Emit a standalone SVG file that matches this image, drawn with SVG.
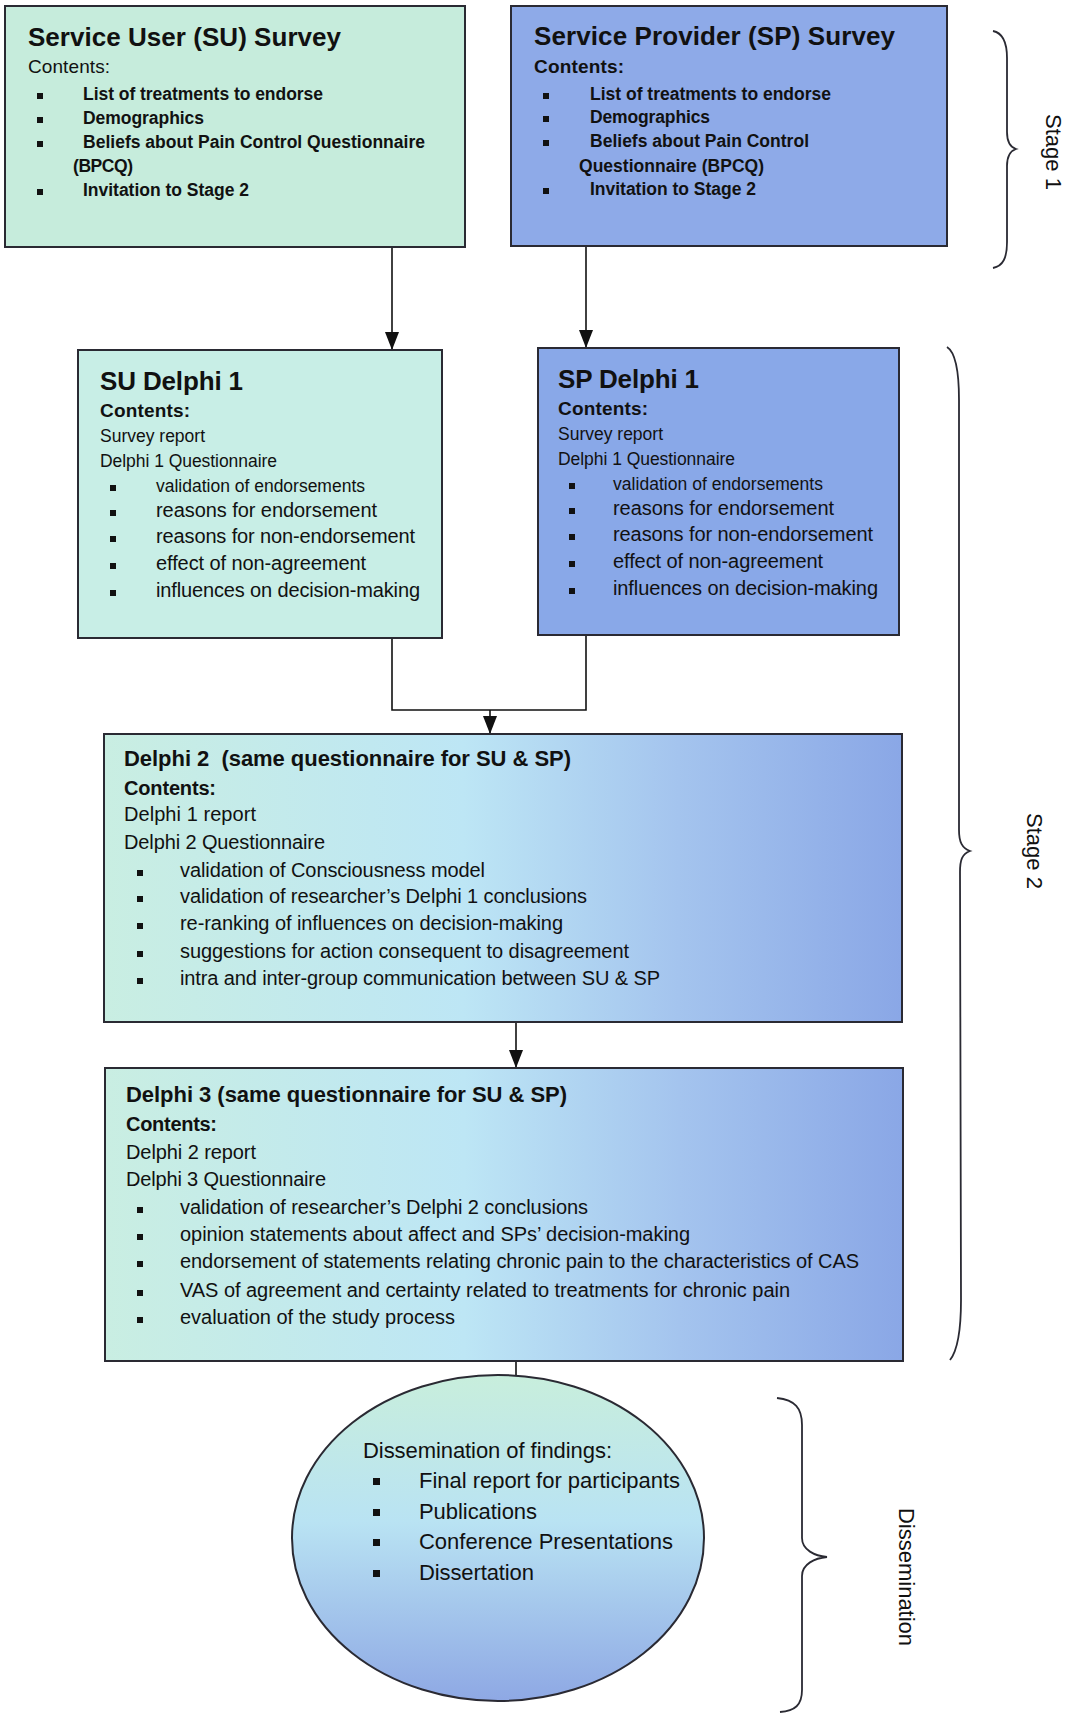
<svg xmlns="http://www.w3.org/2000/svg" width="1071" height="1713" viewBox="0 0 1071 1713">
<style>
text{font-family:"Liberation Sans",Arial,sans-serif;fill:#111}
.t26{font-size:26px;font-weight:bold}
.t22b{font-size:22px;font-weight:bold}
.b19{font-size:19px;font-weight:bold}
.b20{font-size:20px;font-weight:bold}
.r19{font-size:19px}
.s17b{font-size:17.5px;font-weight:bold}
.r17{font-size:17.5px}
.r20{font-size:20px}
.r22{font-size:22px}
.box{stroke:#2a2a33;stroke-width:2}
.bul{fill:#111}
.con{fill:none;stroke:#111;stroke-width:1.6}
.brace{fill:none;stroke:#2a2a33;stroke-width:1.8}
</style>
<defs>
<marker id="arr" markerUnits="userSpaceOnUse" markerWidth="18" markerHeight="14" refX="18" refY="7" orient="auto">
<path d="M0,0 L18,7 L0,14 z" fill="#111"/>
</marker>
<linearGradient id="gh" x1="0" y1="0" x2="1" y2="0">
<stop offset="0" stop-color="#c9eee2"/>
<stop offset="0.45" stop-color="#bde6f5"/>
<stop offset="0.72" stop-color="#a4c4ee"/>
<stop offset="1" stop-color="#8aa7e6"/>
</linearGradient>
<linearGradient id="gv" x1="0" y1="0" x2="0" y2="1">
<stop offset="0" stop-color="#c8eedc"/>
<stop offset="0.45" stop-color="#b9e3f3"/>
<stop offset="1" stop-color="#8ea8e4"/>
</linearGradient>
</defs>
<rect width="1071" height="1713" fill="#ffffff"/>

<g id="connectors">
<path class="con" d="M392 247 V350" marker-end="url(#arr)"/>
<path class="con" d="M586 246 V348" marker-end="url(#arr)"/>
<path class="con" d="M392 638 V710 H586 V635"/>
<path class="con" d="M490 710 V734" marker-end="url(#arr)"/>
<path class="con" d="M516 1022 V1068" marker-end="url(#arr)"/>
<path class="con" d="M516 1361 V1376"/>
</g>

<g id="su-survey">
<rect class="box" x="5" y="6" width="460" height="241" fill="#c6ecdc"/>
<text class="t26" x="28" y="46" textLength="313">Service User (SU) Survey</text>
<text class="r19" x="28" y="73" textLength="82">Contents:</text>
<rect class="bul" x="37" y="93" width="6" height="6"/>
<text class="s17b" x="83" y="100" textLength="240">List of treatments to endorse</text>
<rect class="bul" x="37" y="117" width="6" height="6"/>
<text class="s17b" x="83" y="124" textLength="121">Demographics</text>
<rect class="bul" x="37" y="141" width="6" height="6"/>
<text class="s17b" x="83" y="148" textLength="342">Beliefs about Pain Control Questionnaire</text>
<text class="s17b" x="73" y="172" textLength="60">(BPCQ)</text>
<rect class="bul" x="37" y="189" width="6" height="6"/>
<text class="s17b" x="83" y="196" textLength="166">Invitation to Stage 2</text>
</g>

<g id="sp-survey">
<rect class="box" x="511" y="6" width="436" height="240" fill="#8eaae8"/>
<text class="t26" x="534" y="45" textLength="361">Service Provider (SP) Survey</text>
<text class="b19" x="534" y="73" textLength="90">Contents:</text>
<rect class="bul" x="543" y="93" width="6" height="6"/>
<text class="s17b" x="590" y="100" textLength="241">List of treatments to endorse</text>
<rect class="bul" x="543" y="116" width="6" height="6"/>
<text class="s17b" x="590" y="123" textLength="120">Demographics</text>
<rect class="bul" x="543" y="140" width="6" height="6"/>
<text class="s17b" x="590" y="147" textLength="219">Beliefs about Pain Control</text>
<text class="s17b" x="579" y="172" textLength="185">Questionnaire (BPCQ)</text>
<rect class="bul" x="543" y="188" width="6" height="6"/>
<text class="s17b" x="590" y="195" textLength="166">Invitation to Stage 2</text>
</g>

<g id="su-delphi1">
<rect class="box" x="78" y="350" width="364" height="288" fill="#c8eee6"/>
<text class="t26" x="100" y="390" textLength="143">SU Delphi 1</text>
<text class="b19" x="100" y="417" textLength="90">Contents:</text>
<text class="r17" x="100" y="442" textLength="105">Survey report</text>
<text class="r17" x="100" y="467" textLength="177">Delphi 1 Questionnaire</text>
<rect class="bul" x="110" y="485" width="6" height="6"/>
<text class="r17" x="156" y="492" textLength="209">validation of endorsements</text>
<rect class="bul" x="110" y="510" width="6" height="6"/>
<text class="r20" x="156" y="517" textLength="221">reasons for endorsement</text>
<rect class="bul" x="110" y="536" width="6" height="6"/>
<text class="r20" x="156" y="543" textLength="259">reasons for non-endorsement</text>
<rect class="bul" x="110" y="563" width="6" height="6"/>
<text class="r20" x="156" y="570" textLength="210">effect of non-agreement</text>
<rect class="bul" x="110" y="590" width="6" height="6"/>
<text class="r20" x="156" y="597" textLength="264">influences on decision-making</text>
</g>

<g id="sp-delphi1">
<rect class="box" x="538" y="348" width="361" height="287" fill="#89a8e8"/>
<text class="t26" x="558" y="388" textLength="141">SP Delphi 1</text>
<text class="b19" x="558" y="415" textLength="90">Contents:</text>
<text class="r17" x="558" y="440" textLength="105">Survey report</text>
<text class="r17" x="558" y="465" textLength="177">Delphi 1 Questionnaire</text>
<rect class="bul" x="569" y="483" width="6" height="6"/>
<text class="r17" x="613" y="490" textLength="210">validation of endorsements</text>
<rect class="bul" x="569" y="508" width="6" height="6"/>
<text class="r20" x="613" y="515" textLength="221">reasons for endorsement</text>
<rect class="bul" x="569" y="534" width="6" height="6"/>
<text class="r20" x="613" y="541" textLength="260">reasons for non-endorsement</text>
<rect class="bul" x="569" y="561" width="6" height="6"/>
<text class="r20" x="613" y="568" textLength="210">effect of non-agreement</text>
<rect class="bul" x="569" y="588" width="6" height="6"/>
<text class="r20" x="613" y="595" textLength="265">influences on decision-making</text>
</g>

<g id="delphi2">
<rect class="box" x="104" y="734" width="798" height="288" fill="url(#gh)"/>
<text class="t22b" x="124" y="766" textLength="447" xml:space="preserve">Delphi 2  (same questionnaire for SU &amp; SP)</text>
<text class="b20" x="124" y="795" textLength="92">Contents:</text>
<text class="r20" x="124" y="821" textLength="132">Delphi 1 report</text>
<text class="r20" x="124" y="849" textLength="201">Delphi 2 Questionnaire</text>
<rect class="bul" x="137" y="870" width="6" height="6"/>
<text class="r20" x="180" y="877" textLength="305">validation of Consciousness model</text>
<rect class="bul" x="137" y="896" width="6" height="6"/>
<text class="r20" x="180" y="903" textLength="407">validation of researcher’s Delphi 1 conclusions</text>
<rect class="bul" x="137" y="923" width="6" height="6"/>
<text class="r20" x="180" y="930" textLength="383">re-ranking of influences on decision-making</text>
<rect class="bul" x="137" y="951" width="6" height="6"/>
<text class="r20" x="180" y="958" textLength="449">suggestions for action consequent to disagreement</text>
<rect class="bul" x="137" y="978" width="6" height="6"/>
<text class="r20" x="180" y="985" textLength="480">intra and inter-group communication between SU &amp; SP</text>
</g>

<g id="delphi3">
<rect class="box" x="105" y="1068" width="798" height="293" fill="url(#gh)"/>
<text class="t22b" x="126" y="1102" textLength="441">Delphi 3 (same questionnaire for SU &amp; SP)</text>
<text class="b20" x="126" y="1131" textLength="91">Contents:</text>
<text class="r20" x="126" y="1159" textLength="130">Delphi 2 report</text>
<text class="r20" x="126" y="1186" textLength="200">Delphi 3 Questionnaire</text>
<rect class="bul" x="137" y="1207" width="6" height="6"/>
<text class="r20" x="180" y="1214" textLength="408">validation of researcher’s Delphi 2 conclusions</text>
<rect class="bul" x="137" y="1234" width="6" height="6"/>
<text class="r20" x="180" y="1241" textLength="510">opinion statements about affect and SPs’ decision-making</text>
<rect class="bul" x="137" y="1261" width="6" height="6"/>
<text class="r20" x="180" y="1268" textLength="679">endorsement of statements relating chronic pain to the characteristics of CAS</text>
<rect class="bul" x="137" y="1290" width="6" height="6"/>
<text class="r20" x="180" y="1297" textLength="610">VAS of agreement and certainty related to treatments for chronic pain</text>
<rect class="bul" x="137" y="1317" width="6" height="6"/>
<text class="r20" x="180" y="1324" textLength="275">evaluation of the study process</text>
</g>

<g id="dissemination">
<ellipse class="box" cx="498" cy="1538" rx="206" ry="163" fill="url(#gv)"/>
<text class="r22" x="363" y="1458" textLength="249">Dissemination of findings:</text>
<rect class="bul" x="373" y="1478" width="7" height="7"/>
<text class="r22" x="419" y="1488" textLength="261">Final report for participants</text>
<rect class="bul" x="373" y="1509" width="7" height="7"/>
<text class="r22" x="419" y="1519" textLength="118">Publications</text>
<rect class="bul" x="373" y="1539" width="7" height="7"/>
<text class="r22" x="419" y="1549" textLength="254">Conference Presentations</text>
<rect class="bul" x="373" y="1570" width="7" height="7"/>
<text class="r22" x="419" y="1580" textLength="115">Dissertation</text>
</g>

<g id="braces">
<path class="brace" d="M993 31 C1003 33 1007 42 1007 58 L1007 132 C1007 142 1010 147 1016 149 C1010 151 1007 156 1007 166 L1007 242 C1007 258 1003 266 993 268"/>
<path class="brace" d="M947 347 C955 352 959 370 959 400 L959 830 C959 842 962 848 970 851 C962 854 960 860 960 872 L961 1300 C961 1330 958 1350 950 1360"/>
<path class="brace" d="M777 1398 C795 1400 802 1408 802 1425 L802 1538 C802 1550 815 1556 827 1557 C815 1558 802 1564 802 1576 L802 1690 C802 1705 795 1711 780 1712"/>
<text class="r22" text-anchor="middle" transform="translate(1046,152) rotate(90)">Stage 1</text>
<text class="r22" text-anchor="middle" transform="translate(1027,851) rotate(90)">Stage 2</text>
<text class="r22" text-anchor="middle" transform="translate(899,1577) rotate(90)">Dissemination</text>
</g>
</svg>
